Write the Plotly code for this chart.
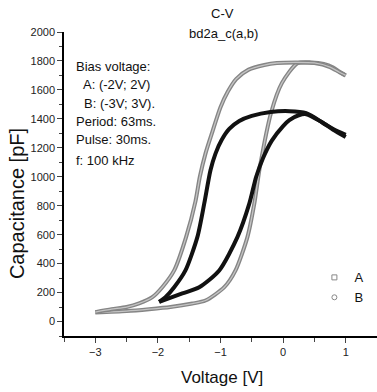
import plotly.graph_objects as go

# Series A (squares): bias (-2V; 2V)
a_up_v = [-1.98, -1.61, -1.34, -1.02, -0.73, -0.54, -0.43, -0.32, -0.18, 0.0, 0.1, 0.25, 0.37, 0.62, 0.8, 1.0]
a_up_c = [135, 194, 237, 353, 583, 814, 1000, 1130, 1250, 1350, 1391, 1425, 1432, 1377, 1330, 1290]
a_down_v = [1.0, 0.8, 0.62, 0.37, 0.1, -0.2, -0.5, -0.7, -0.86, -0.98, -1.08, -1.16, -1.26, -1.37, -1.56, -1.74, -1.88, -1.98]
a_down_c = [1275, 1325, 1377, 1439, 1453, 1447, 1420, 1385, 1330, 1255, 1160, 1045, 814, 583, 353, 237, 168, 135]

# Series B (circles): bias (-3V; 3V)
b_up_v = [-3.0, -2.5, -2.14, -1.8, -1.45, -1.24, -0.94, -0.76, -0.57, -0.46, -0.37, -0.19, -0.02, 0.23, 0.45, 0.65, 0.8, 0.9, 1.0]
b_up_c = [62, 72, 85, 100, 124, 145, 237, 353, 583, 814, 1070, 1446, 1647, 1785, 1790, 1780, 1755, 1725, 1700]
b_down_v = [1.0, 0.9, 0.75, 0.5, 0.2, -0.1, -0.3, -0.55, -0.75, -0.88, -1.0, -1.13, -1.24, -1.33, -1.40, -1.55, -1.74, -1.93, -2.09, -2.3, -2.5, -2.74, -3.0]
b_down_c = [1700, 1722, 1758, 1786, 1790, 1786, 1772, 1740, 1675, 1590, 1480, 1310, 1160, 1000, 830, 583, 353, 237, 168, 125, 100, 85, 65]

legend_names = ["A", "B"]
x_ticks = [-3, -2, -1, 0, 1]
y_ticks = [0, 200, 400, 600, 800, 1000, 1200, 1400, 1600, 1800, 2000]
info_lines = ["Bias voltage:", "A: (-2V; 2V)", "B: (-3V; 3V).", "Period: 63ms.", "Pulse: 30ms.", "f: 100 kHz"]

FONT = "Liberation Sans, Arial, sans-serif"

fig = go.Figure()

def add_line(x, y, color, width):
    fig.add_trace(go.Scatter(x=x, y=y, mode="lines", showlegend=False, hoverinfo="skip",
                             line=dict(color=color, width=width, shape="spline", smoothing=0.7)))

# B loop: gray band of hollow circles
add_line(b_up_v, b_up_c, "#858585", 4)
add_line(b_up_v, b_up_c, "#c4c4c4", 1.3)
add_line(b_down_v, b_down_c, "#858585", 4)
add_line(b_down_v, b_down_c, "#c4c4c4", 1.3)
# A loop: dense squares look black
add_line(a_up_v, a_up_c, "#111111", 4)
add_line(a_down_v, a_down_c, "#111111", 4)

# legend entries
fig.add_trace(go.Scatter(x=[None], y=[None], mode="markers", name=legend_names[0],
                         marker=dict(symbol="square-open", size=5, color="#888888", line=dict(width=1))))
fig.add_trace(go.Scatter(x=[None], y=[None], mode="markers", name=legend_names[1],
                         marker=dict(symbol="circle-open", size=5, color="#888888", line=dict(width=1))))

annotations = []
info_x = [-3.34, -3.23, -3.22, -3.34, -3.34, -3.34]
info_y = [1765, 1634, 1503, 1385, 1254, 1109]
for t, xx, yy in zip(info_lines, info_x, info_y):
    annotations.append(dict(text=t, x=xx, y=yy, xref="x", yref="y", xanchor="left", yanchor="middle",
                            showarrow=False, font=dict(family=FONT, size=13, color="#111")))

annotations += [
    dict(text="C-V", x=0.506, y=1.0625, xref="paper", yref="paper", xanchor="center", yanchor="middle",
         showarrow=False, font=dict(family=FONT, size=13, color="#111")),
    dict(text="bd2a_c(a,b)", x=0.509, y=0.9967, xref="paper", yref="paper", xanchor="center", yanchor="middle",
         showarrow=False, font=dict(family=FONT, size=13, color="#111")),
    dict(text="Voltage [V]", x=0.506, y=-0.135, xref="paper", yref="paper", xanchor="center", yanchor="middle",
         showarrow=False, font=dict(family=FONT, size=17, color="#111")),
    dict(text="Capacitance [pF]", x=-0.150, y=0.434, xref="paper", yref="paper", xanchor="center", yanchor="middle",
         textangle=-90, showarrow=False, font=dict(family=FONT, size=20, color="#111")),
]

fig.update_layout(
    width=377, height=392,
    margin=dict(l=64, r=0, t=32, b=56),
    paper_bgcolor="white", plot_bgcolor="white",
    font=dict(family=FONT, size=11, color="#222"),
    annotations=annotations,
    showlegend=True,
    legend=dict(x=0.80, y=0.242, xanchor="left", yanchor="top", bgcolor="rgba(0,0,0,0)",
                font=dict(family=FONT, size=13, color="#111"), tracegroupgap=0, itemwidth=30),
)
fig.update_xaxes(range=[-3.5, 1.5], tickvals=x_ticks, ticks="outside", ticklen=5, tickwidth=1.2,
                 showline=True, linecolor="black", linewidth=1.5, showgrid=False, zeroline=False,
                 tickfont=dict(family=FONT, size=11, color="#222"),
                 minor=dict(dtick=0.5, ticks="outside", ticklen=4, tickwidth=1.2, showgrid=False))
fig.update_yaxes(range=[-100, 2000], tickvals=y_ticks, ticks="outside", ticklen=5, tickwidth=1.2,
                 showline=True, linecolor="black", linewidth=1.5, showgrid=False, zeroline=False,
                 tickfont=dict(family=FONT, size=11, color="#222"),
                 minor=dict(dtick=100, ticks="outside", ticklen=3, tickwidth=1.2, showgrid=False))

fig.write_html("out.html")
